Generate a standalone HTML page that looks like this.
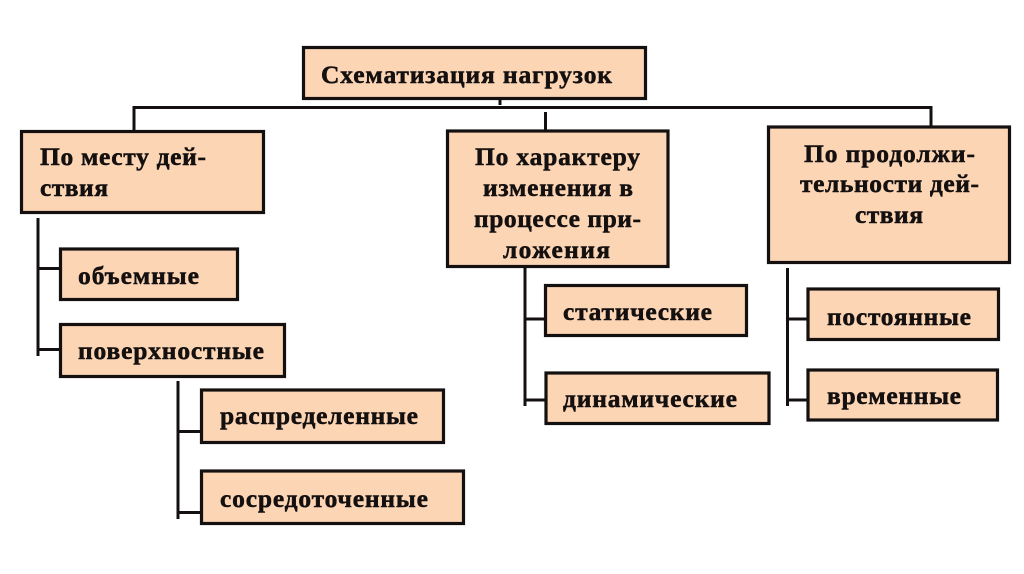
<!DOCTYPE html>
<html lang="ru">
<head>
<meta charset="utf-8">
<style>
html,body{margin:0;padding:0;background:#fff;width:1024px;height:574px;overflow:hidden}
svg{display:block;filter:blur(.3px)}
text{font-family:"Liberation Serif","DejaVu Serif",serif;font-weight:bold;font-size:25.5px;fill:#141010;stroke:#141010;stroke-width:.5}
.b{fill:#fcd5b4;stroke:#141010;stroke-width:3.2}
.l{stroke:#141010;stroke-width:3;fill:none}
</style>
</head>
<body>
<svg width="1024" height="574" viewBox="0 0 1024 574" xmlns="http://www.w3.org/2000/svg">
<rect width="1024" height="574" fill="#fff"/>
<!-- connectors -->
<path class="l" d="M134 130V107.500H931V126"/>
<path class="l" d="M500 92V105"/>
<path class="l" d="M545.500 112V130"/>
<path class="l" d="M38 218V356M38 268.500H60M38 349.500H60"/>
<path class="l" d="M178 381V519M178 431.500H201M178 512.500H201"/>
<path class="l" d="M525 268V406M525 319H546M525 400H546"/>
<path class="l" d="M787.500 268V406M787.500 319H808M787.500 400H808"/>
<!-- boxes -->
<rect class="b" x="303.500" y="47.500" width="342" height="51"/>
<rect class="b" x="21.500" y="131.500" width="242" height="81"/>
<rect class="b" x="447.500" y="131" width="220.500" height="135.500"/>
<rect class="b" x="768.500" y="127" width="241" height="135.500"/>
<rect class="b" x="60.500" y="249" width="177" height="50.500"/>
<rect class="b" x="60.500" y="324.500" width="224" height="52"/>
<rect class="b" x="201.500" y="390" width="242" height="52.500"/>
<rect class="b" x="201.500" y="471" width="262" height="52.500"/>
<rect class="b" x="545.500" y="285.500" width="201" height="50"/>
<rect class="b" x="546" y="373" width="223" height="50.500"/>
<rect class="b" x="808" y="289" width="190.500" height="50.500"/>
<rect class="b" x="808" y="370" width="189.500" height="50"/>
<!-- labels -->
<text x="321" y="83" textLength="291" lengthAdjust="spacing">Схематизация нагрузок</text>
<text x="40" y="165" textLength="166" lengthAdjust="spacing">По месту дей-</text>
<text x="40" y="196" textLength="68" lengthAdjust="spacing">ствия</text>
<text x="475" y="165" textLength="165" lengthAdjust="spacing">По характеру</text>
<text x="483" y="196" textLength="150" lengthAdjust="spacing">изменения в</text>
<text x="474" y="227" textLength="167" lengthAdjust="spacing">процессе при-</text>
<text x="503" y="258" textLength="107" lengthAdjust="spacing">ложения</text>
<text x="804" y="162" textLength="171" lengthAdjust="spacing">По продолжи-</text>
<text x="800" y="192" textLength="179" lengthAdjust="spacing">тельности дей-</text>
<text x="855" y="223" textLength="68" lengthAdjust="spacing">ствия</text>
<text x="78" y="284" textLength="121" lengthAdjust="spacing">объемные</text>
<text x="78" y="359" textLength="186" lengthAdjust="spacing">поверхностные</text>
<text x="220" y="424" textLength="198" lengthAdjust="spacing">распределенные</text>
<text x="220" y="507" textLength="208" lengthAdjust="spacing">сосредоточенные</text>
<text x="563" y="320" textLength="149" lengthAdjust="spacing">статические</text>
<text x="563" y="407" textLength="174" lengthAdjust="spacing">динамические</text>
<text x="827" y="325" textLength="144" lengthAdjust="spacing">постоянные</text>
<text x="827" y="404" textLength="134" lengthAdjust="spacing">временные</text>
</svg>
</body>
</html>
